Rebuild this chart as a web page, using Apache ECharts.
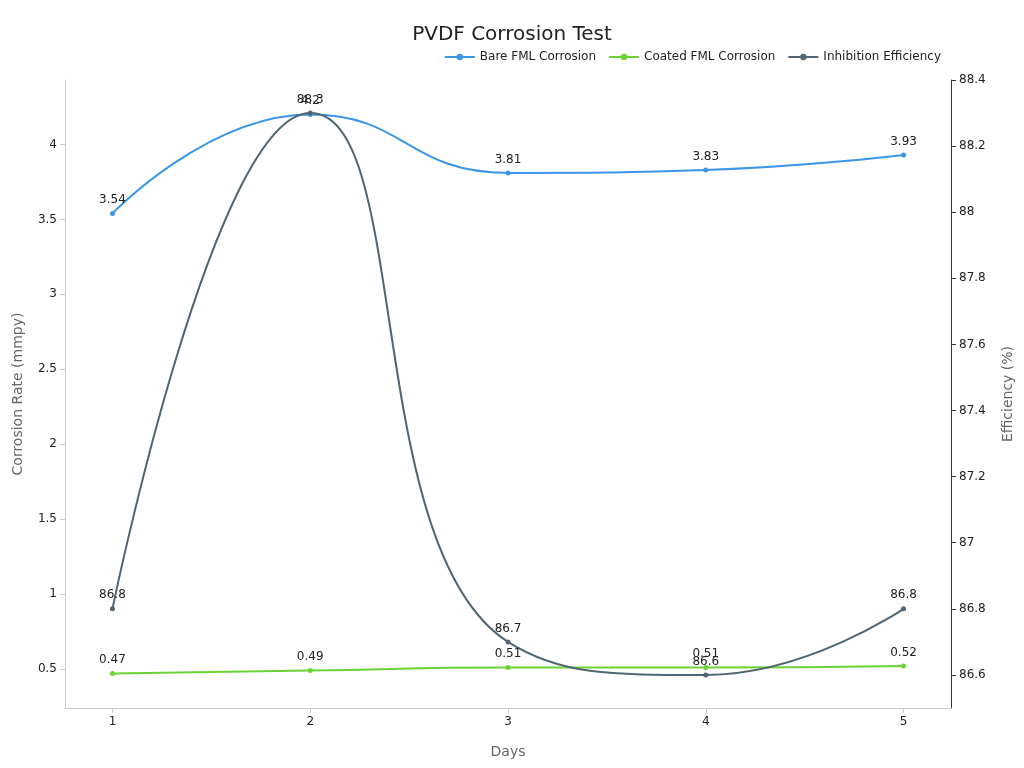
<!DOCTYPE html>
<html><head><meta charset="utf-8">
<script src="https://cdn.jsdelivr.net/npm/echarts@6/dist/echarts.min.js"></script>
<style>html,body{margin:0;padding:0;background:#fff}#c{width:1024px;height:768px}</style>
</head><body><div id="c"></div>
<script>
var days = [1, 2, 3, 4, 5];
var bare = [3.54, 4.2, 3.81, 3.83, 3.93];
var coated = [0.47, 0.49, 0.51, 0.51, 0.52];
var efficiency = [86.8, 88.3, 86.7, 86.6, 86.8];
var rateTicks = [0.5, 1, 1.5, 2, 2.5, 3, 3.5, 4];
var effTicks = [86.6, 86.8, 87, 87.2, 87.4, 87.6, 87.8, 88, 88.2, 88.4];

function pairs(v) {
    return days.map(function (d, i) { return [d, v[i]]; });
}
var lbl = {show: true, position: 'top', color: '#222', fontSize: 12};
var myChart = echarts.init(document.getElementById('c'));
var option = {
    textStyle: {fontFamily: 'DejaVu Sans'},
    title: {text: 'PVDF Corrosion Test', left: 'center', top: 20, textStyle: {fontSize: 20, fontWeight: 'normal', color: '#222'}},
    legend: {right: 78, top: 46, itemWidth: 30, itemHeight: 8, itemGap: 12, textStyle: {fontSize: 12, color: '#222'},
        data: ['Bare FML Corrosion', 'Coated FML Corrosion', 'Inhibition Efficiency']},
    grid: {left: 65, right: 73, top: 80, bottom: 60},
    xAxis: {type: 'value', min: 0.76, max: 5.24, name: 'Days', nameLocation: 'middle', nameGap: 37,
        nameTextStyle: {fontSize: 14, color: '#666'},
        axisLabel: {customValues: days, color: '#222'},
        axisTick: {show: true, customValues: days},
        axisLine: {lineStyle: {color: '#ccc'}}, splitLine: {show: false}},
    yAxis: [
        {type: 'value', min: 0.24, max: 4.43, name: 'Corrosion Rate (mmpy)', nameLocation: 'middle', nameGap: 40,
            nameTextStyle: {fontSize: 14, color: '#666'},
            axisLabel: {customValues: rateTicks, color: '#222'},
            axisTick: {show: true, customValues: rateTicks, lineStyle: {color: '#ccc'}},
            axisLine: {show: true, lineStyle: {color: '#ccc'}}, splitLine: {show: false}},
        {type: 'value', min: 86.5, max: 88.4, name: 'Efficiency (%)', nameLocation: 'middle', nameGap: 50,
            nameTextStyle: {fontSize: 14, color: '#666'},
            axisLabel: {customValues: effTicks, color: '#222'},
            axisTick: {show: true, customValues: effTicks},
            axisLine: {show: true, lineStyle: {color: '#333'}}, splitLine: {show: false}}
    ],
    series: [
        {name: 'Bare FML Corrosion', type: 'line', smooth: true, data: pairs(bare), color: '#3a96e8',
            symbol: 'circle', symbolSize: 5, label: lbl, lineStyle: {width: 2}},
        {name: 'Coated FML Corrosion', type: 'line', smooth: true, data: pairs(coated), color: '#6ad334',
            symbol: 'circle', symbolSize: 5, label: lbl, lineStyle: {width: 2}},
        {name: 'Inhibition Efficiency', type: 'line', smooth: true, yAxisIndex: 1, data: pairs(efficiency), color: '#4f6672',
            symbol: 'circle', symbolSize: 5, label: lbl, lineStyle: {width: 2}}
    ]
};
myChart.setOption(option);
</script></body></html>
